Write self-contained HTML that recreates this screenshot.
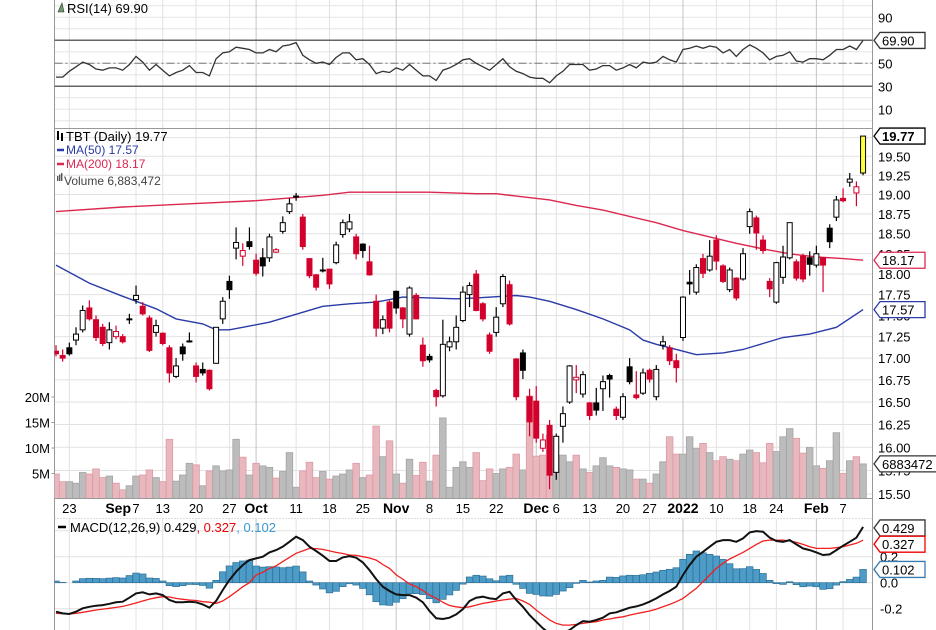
<!DOCTYPE html>
<html><head><meta charset="utf-8"><style>
html,body{margin:0;padding:0;background:#fff;}
svg{display:block;font-family:"Liberation Sans",sans-serif;}
</style></head><body>
<svg id="chart" width="936" height="630" viewBox="0 0 936 630" xmlns="http://www.w3.org/2000/svg"></svg>
<script>
const opens=[17.08,17.03,17.12,17.21,17.33,17.59,17.45,17.36,17.18,17.25,17.25,17.45,17.69,17.61,17.47,17.30,17.29,17.12,16.79,17.13,17.20,16.91,16.87,16.86,16.94,17.46,17.91,18.32,18.22,18.40,18.17,18.20,18.20,18.27,18.53,18.78,18.97,18.71,18.19,17.99,18.04,18.06,18.14,18.49,18.56,18.46,18.37,18.15,17.67,17.35,17.66,17.79,17.59,17.28,17.74,17.15,17.02,16.63,16.57,17.13,17.19,17.44,17.75,18.00,17.64,17.27,17.30,17.64,17.87,16.99,17.06,16.56,16.51,15.99,16.24,15.73,16.23,16.50,16.75,16.59,16.49,16.49,16.65,16.80,16.42,16.33,16.90,16.58,16.60,16.86,16.56,17.15,17.12,16.97,17.24,17.90,17.78,18.19,18.05,18.42,18.10,17.81,17.95,17.94,18.59,18.70,18.42,17.91,17.66,17.96,18.20,18.15,18.22,18.20,18.11,18.20,18.57,18.71,18.95,19.16,19.02,19.28];
const highs=[17.15,17.10,17.18,17.36,17.62,17.68,17.50,17.40,17.42,17.38,17.28,17.52,17.86,17.66,17.50,17.45,17.30,17.15,17.00,17.17,17.30,16.95,16.95,16.87,17.36,17.72,17.98,18.58,18.38,18.58,18.25,18.32,18.50,18.32,18.72,18.95,19.02,18.75,18.19,18.00,18.20,18.06,18.40,18.68,18.75,18.50,18.38,18.35,17.75,17.50,17.68,17.80,17.60,17.85,17.77,17.24,17.05,16.65,17.45,17.25,17.50,17.85,17.90,18.05,17.66,17.30,17.60,18.00,17.92,17.00,17.10,16.65,16.68,16.15,16.30,16.15,16.45,16.92,16.92,16.85,16.50,16.66,16.80,16.82,16.45,16.60,17.00,16.85,16.88,16.88,16.92,17.26,17.15,17.05,17.73,18.05,18.12,18.25,18.42,18.48,18.12,18.08,17.96,18.32,18.82,18.73,18.48,17.95,18.15,18.35,18.64,18.18,18.25,18.28,18.35,18.20,18.62,18.98,19.08,19.28,19.17,19.77];
const lows=[17.02,16.96,17.03,17.15,17.30,17.44,17.20,17.14,17.10,17.22,17.17,17.40,17.64,17.50,17.07,17.25,17.15,16.72,16.77,16.97,17.18,16.72,16.80,16.63,16.94,17.40,17.70,18.18,18.10,18.30,17.98,17.97,18.15,18.26,18.50,18.75,18.92,18.30,17.95,17.80,18.02,17.82,18.12,18.45,18.52,18.18,18.20,17.98,17.25,17.28,17.30,17.52,17.35,17.25,17.46,16.90,16.95,16.45,16.55,17.08,17.10,17.42,17.60,17.55,17.43,17.05,17.25,17.60,17.38,16.52,16.76,16.12,16.05,15.95,15.55,15.65,16.05,16.48,16.60,16.55,16.30,16.35,16.40,16.55,16.30,16.30,16.70,16.53,16.58,16.72,16.52,17.10,16.92,16.72,17.20,17.75,17.75,17.95,18.03,18.05,17.89,17.78,17.68,17.92,18.50,18.30,18.25,17.72,17.64,17.88,18.18,17.92,17.90,17.98,18.08,17.78,18.32,18.66,18.90,19.10,18.85,19.25];
const closes=[17.05,17.00,17.05,17.28,17.56,17.46,17.24,17.17,17.33,17.31,17.19,17.46,17.74,17.52,17.09,17.38,17.17,16.83,16.91,17.05,17.19,16.79,16.83,16.65,17.36,17.67,17.81,18.39,18.29,18.34,18.01,18.10,18.46,18.30,18.64,18.88,18.98,18.34,17.98,17.84,18.05,17.88,18.36,18.64,18.65,18.25,18.29,17.99,17.35,17.45,17.35,17.59,17.46,17.83,17.46,16.97,16.98,16.56,17.16,17.19,17.36,17.78,17.86,17.56,17.46,17.08,17.48,17.97,17.40,16.56,16.86,16.28,16.10,16.08,15.70,16.12,16.37,16.91,16.78,16.81,16.35,16.41,16.73,16.76,16.35,16.56,16.73,16.55,16.83,16.76,16.87,17.19,16.97,16.89,17.72,17.88,18.08,18.01,18.22,18.16,17.91,18.05,17.71,18.25,18.78,18.51,18.29,17.82,18.14,18.21,18.64,17.95,17.94,18.12,18.25,18.11,18.40,18.93,18.92,19.20,19.10,19.77];
const volumes=[4.9,3.4,3.4,3.1,5.2,4.9,5.9,4.2,4.5,3.1,1.8,2.6,4.5,4.7,5.7,4.2,3.4,11.7,3.5,4.7,7.0,6.7,2.6,5.5,6.5,5.5,5.7,11.7,8.2,4.7,7.0,6.5,6.2,4.1,5.4,9.1,2.3,5.5,7.2,4.2,5.4,3.9,4.5,4.9,5.7,7.0,4.2,4.7,14.3,8.3,11.4,4.9,3.1,7.8,4.6,7.2,3.5,8.6,15.9,2.3,6.2,7.3,6.2,9.1,3.6,5.9,5.0,5.9,6.2,8.8,5.7,20.2,8.4,8.6,12.5,5.9,8.6,7.3,8.6,5.9,5.2,6.5,8.1,6.5,6.2,5.9,5.7,3.9,3.9,3.1,4.9,7.3,12.2,8.8,8.8,12.2,9.9,10.9,9.1,7.5,8.3,7.8,7.5,8.8,9.6,9.1,7.1,10.9,9.3,12.2,13.8,11.9,9.0,10.1,6.5,6.0,7.5,13.0,5.0,7.5,8.3,6.88];
const rsiValues=[38,38,43,47,51,49,45,44,46,46,44,49,56,51,44,49,44,39,42,44,48,42,42,39,54,59,60,64,63,62,59,59,62,60,65,66,68,57,53,50,51,49,55,59,59,53,54,49,41,43,42,46,44,49,44,39,39,35,44,46,49,53,54,50,47,44,49,54,47,43,41,38,37,37,33,39,43,49,49,49,44,45,48,48,44,46,49,46,51,50,51,56,53,51,62,63,65,63,65,64,59,62,56,62,66,63,59,53,56,57,60,52,51,54,54,53,57,62,62,65,62,69.9];
const macdLine=[-0.223,-0.236,-0.241,-0.223,-0.197,-0.185,-0.177,-0.172,-0.162,-0.151,-0.146,-0.115,-0.082,-0.074,-0.090,-0.082,-0.095,-0.133,-0.151,-0.151,-0.146,-0.151,-0.167,-0.192,-0.141,-0.056,0.021,0.085,0.136,0.174,0.187,0.200,0.233,0.251,0.277,0.315,0.354,0.328,0.277,0.244,0.208,0.167,0.167,0.195,0.205,0.192,0.156,0.097,0.028,-0.031,-0.064,-0.090,-0.095,-0.095,-0.115,-0.151,-0.218,-0.274,-0.279,-0.269,-0.244,-0.203,-0.141,-0.115,-0.108,-0.121,-0.126,-0.082,-0.069,-0.133,-0.185,-0.249,-0.300,-0.351,-0.390,-0.403,-0.390,-0.364,-0.326,-0.295,-0.300,-0.287,-0.269,-0.236,-0.228,-0.210,-0.192,-0.182,-0.167,-0.146,-0.121,-0.090,-0.064,-0.031,0.059,0.136,0.200,0.238,0.277,0.315,0.328,0.328,0.315,0.341,0.387,0.397,0.392,0.346,0.321,0.315,0.328,0.295,0.264,0.251,0.233,0.213,0.218,0.251,0.285,0.315,0.346,0.429];
const signalLine=[-0.236,-0.238,-0.241,-0.236,-0.228,-0.219,-0.210,-0.203,-0.197,-0.190,-0.182,-0.170,-0.156,-0.141,-0.126,-0.115,-0.108,-0.110,-0.121,-0.128,-0.133,-0.137,-0.146,-0.150,-0.159,-0.140,-0.108,-0.070,-0.031,0.000,0.059,0.080,0.110,0.130,0.162,0.195,0.226,0.245,0.264,0.262,0.256,0.245,0.233,0.225,0.213,0.210,0.200,0.190,0.174,0.140,0.110,0.060,0.028,-0.010,-0.031,-0.060,-0.095,-0.120,-0.151,-0.175,-0.185,-0.192,-0.185,-0.172,-0.159,-0.151,-0.141,-0.133,-0.126,-0.121,-0.141,-0.167,-0.210,-0.249,-0.287,-0.313,-0.326,-0.326,-0.321,-0.313,-0.305,-0.300,-0.287,-0.279,-0.269,-0.262,-0.249,-0.238,-0.228,-0.218,-0.203,-0.185,-0.167,-0.146,-0.121,-0.082,-0.044,0.008,0.059,0.110,0.149,0.182,0.208,0.233,0.264,0.295,0.321,0.328,0.328,0.328,0.321,0.310,0.295,0.277,0.264,0.264,0.264,0.269,0.277,0.290,0.303,0.327];
const ma50Idx=[0,5,10,15,18,22,24,26,28,32,40,44,48,52,56,60,63,67,69,71,74,78,82,86,88,90,94,96,100,103,106,109,113,117,121];
const ma50Val=[18.11,17.89,17.73,17.58,17.46,17.40,17.33,17.33,17.36,17.42,17.61,17.64,17.66,17.72,17.71,17.70,17.71,17.73,17.74,17.72,17.67,17.57,17.46,17.33,17.21,17.16,17.08,17.04,17.06,17.10,17.17,17.24,17.28,17.36,17.57];
const ma200Idx=[0,10,20,30,40,44,56,63,66,69,74,78,82,86,90,94,98,102,106,110,114,118,121];
const ma200Val=[18.78,18.84,18.88,18.92,18.99,19.03,19.03,19.01,19.01,18.98,18.93,18.86,18.80,18.72,18.64,18.54,18.46,18.38,18.31,18.25,18.21,18.19,18.17];
const dateLabelIdx=[2,12,16,21,26,30,36,41,46,51,56,61,66,72,75,80,85,89,94,99,104,108,114,118];
const dateLabelText=["23","7","13","20","27","Oct","11","18","25","Nov","8","15","22","Dec","6","13","20","27","2022","10","18","24","Feb","7"];
const monthIdx=[30,51,72,94,114];
const priceTicks=[15.5,15.75,16,16.25,16.5,16.75,17,17.25,17.5,17.75,18,18.25,18.5,18.75,19,19.25,19.5,19.75];
const rsiTicks=[10,30,50,70,90];
const volTicks=[5,10,15,20];
const macdTicks=[-0.2,0.0,0.2];

const NS="http://www.w3.org/2000/svg";
const svg=document.getElementById('chart');
const L=54.5,R=872.5;
function X(i){return 56+i*6.67;}
function PY(p){return 214+Math.log(18.75/p)*1471;}
function RY(v){return 63.3-(v-50)*1.15;}
function VY(v){return 499-v*5.1;}
function MY(v){return 582.7-v*130;}
function el(tag,attrs,parent){const e=document.createElementNS(NS,tag);for(const k in attrs)e.setAttribute(k,attrs[k]);(parent||svg).appendChild(e);return e;}
function txt(s,x,y,attrs,parent){const t=el('text',Object.assign({x:x,y:y,'font-size':13,fill:'#000'},attrs),parent);t.textContent=s;return t;}

// clip paths
const defs=el('defs',{});
const cp1=el('clipPath',{id:'cpPrice'},defs);el('rect',{x:L,y:129,width:R-L,height:369},cp1);
const cp2=el('clipPath',{id:'cpMacd'},defs);el('rect',{x:L,y:519,width:R-L,height:111},cp2);
const cp3=el('clipPath',{id:'cpRsi'},defs);el('rect',{x:L,y:0,width:R-L,height:128},cp3);

// grids
const grid=el('g',{});


for(let v=0;v<=100;v+=10){el('line',{x1:L,x2:R,y1:RY(v),y2:RY(v),stroke:'#e6e6e6'},grid);}
priceTicks.forEach(p=>el('line',{x1:L,x2:R,y1:PY(p),y2:PY(p),stroke:'#e2e2e2'},grid));
[-0.4,-0.2,0,0.2,0.4].forEach(v=>el('line',{x1:L,x2:R,y1:MY(v),y2:MY(v),stroke:'#e2e2e2'},grid));
dateLabelIdx.forEach((i,k)=>{const isM=monthIdx.includes(i);const x=X(i)+(isM?0:0);
 [[0,128],[129,498],[519,630]].forEach(r=>el('line',{x1:x,x2:x,y1:r[0],y2:r[1],stroke:isM?'#c4c4c4':'#e2e2e2'},grid));});

// panel borders
el('line',{x1:L,x2:L,y1:0,y2:630,stroke:'#999'});
el('line',{x1:R,x2:R,y1:0,y2:630,stroke:'#999'});
el('line',{x1:L,x2:R,y1:128.5,y2:128.5,stroke:'#999'});
el('line',{x1:L,x2:R,y1:498.5,y2:498.5,stroke:'#999'});
el('line',{x1:L,x2:R,y1:518.5,y2:518.5,stroke:'#bbb','stroke-dasharray':'1 2'});

// RSI panel
el('line',{x1:L,x2:R,y1:RY(70),y2:RY(70),stroke:'#666','stroke-width':1.5});
el('line',{x1:L,x2:R,y1:RY(30),y2:RY(30),stroke:'#666','stroke-width':1.5});
el('line',{x1:L,x2:R,y1:RY(50),y2:RY(50),stroke:'#777','stroke-dasharray':'8 3 2 3'});
let rp='';rsiValues.forEach((v,i)=>{rp+=(i?'L':'M')+X(i).toFixed(1)+' '+RY(v).toFixed(1);});
const rsiPath=el('path',{d:rp,fill:'none',stroke:'#333','stroke-width':1.3,'clip-path':'url(#cpRsi)'});


rsiTicks.forEach(v=>{const t=txt(String(v),878,RY(v)+5,{'font-size':13});});
el('path',{d:'M58 12 L62 3 L64 12 Z',fill:'#6a9a6a',stroke:'#333','stroke-width':0.6});
const rl=txt('RSI(14) 69.90',67,13,{'font-size':13});



// Volume
const vg=el('g',{'clip-path':'url(#cpPrice)'});


volumes.forEach((v,i)=>{const down=i===0?true:closes[i]<closes[i-1];
 const b=el('rect',{x:X(i)-3.3,y:VY(v),width:6.6,height:499-VY(v),fill:down?'#e8b8be':'#bcbcbc',stroke:down?'#dd9aa4':'#a4a4a4','stroke-width':0.8},vg);
 
 });
volTicks.forEach(v=>{const t=txt(v+'M',50,VY(v)+5,{'font-size':13,'text-anchor':'end'});
 el('line',{x1:L-3,x2:L,y1:VY(v),y2:VY(v),stroke:'#999'});});

// MAs
function maPath(idx,val){let d='';idx.forEach((i,k)=>{d+=(k?'L':'M')+X(i).toFixed(1)+' '+PY(val[k]).toFixed(1);});return d;}
const m200=el('path',{d:maPath(ma200Idx,ma200Val),fill:'none',stroke:'#dc2850','stroke-width':1.4,'clip-path':'url(#cpPrice)'});


const m50=el('path',{d:maPath(ma50Idx,ma50Val),fill:'none',stroke:'#2a3aa8','stroke-width':1.4,'clip-path':'url(#cpPrice)'});



// candles
const cg=el('g',{'clip-path':'url(#cpPrice)'});


closes.forEach((c,i)=>{const o=opens[i];const down=i===0?true:c<closes[i-1];const filled=c<o;const last=i===closes.length-1;
 const col=down?'#d4002c':'#000';const x=X(i);
 el('line',{x1:x,x2:x,y1:PY(highs[i]),y2:PY(lows[i]),stroke:last?'#000':col,'stroke-width':1.2},cg);
 const top=PY(Math.max(o,c)),bot=PY(Math.min(o,c));
 const r=el('rect',{x:x-2.5,y:top,width:5,height:Math.max(1,bot-top),fill:last?'#ffff40':(filled?col:'#fff'),stroke:last?'#000':col,'stroke-width':1},cg);
 
 });

// price ticks
priceTicks.forEach(p=>{if(p===19.75)return;const t=txt(p.toFixed(2),878,PY(p)+5,{'font-size':13});});

// MACD
const mg=el('g',{'clip-path':'url(#cpMacd)'});


macdLine.forEach((m,i)=>{const h=m-signalLine[i];const y0=MY(0),y1=MY(h);
 const b=el('rect',{x:X(i)-3.3,y:Math.min(y0,y1),width:6.6,height:Math.abs(y1-y0),fill:'#4d9cc8',stroke:'#2d6f96','stroke-width':0.7},mg);
 
 });
let sp='',mp='';signalLine.forEach((v,i)=>{sp+=(i?'L':'M')+X(i).toFixed(1)+' '+MY(v).toFixed(1);});macdLine.forEach((v,i)=>{mp+=(i?'L':'M')+X(i).toFixed(1)+' '+MY(v).toFixed(1);});
const sl=el('path',{d:sp,fill:'none',stroke:'#f02020','stroke-width':1.3},mg);


const ml=el('path',{d:mp,fill:'none',stroke:'#111','stroke-width':2},mg);


macdTicks.forEach(v=>{const t=txt(v.toFixed(1),880,MY(v)+5,{'font-size':13});});
el('line',{x1:58,x2:66,y1:527,y2:527,stroke:'#000','stroke-width':2.5});
const ml2=el('text',{x:70,y:532,'font-size':13});


ml2.innerHTML='<tspan fill="#000">MACD(12,26,9) 0.429</tspan><tspan fill="#e00">, 0.327</tspan><tspan fill="#3b9ad0">, 0.102</tspan>';

// date labels
dateLabelIdx.forEach((i,k)=>{const s=dateLabelText[k];const isM=monthIdx.includes(i);
 let x=X(i);
 if(s==='7'&&i===12){const m=txt('Sep',x-5,513,{'font-size':14,'font-weight':'bold','text-anchor':'end'});}
 if(s==='6'&&i===75){x=X(i);}
 const t=txt(s,x,513,{'font-size':isM?14:13,'font-weight':isM?'bold':'normal','text-anchor':'middle'});
 
 });

// price legend
el('rect',{x:57,y:131,width:2,height:9,fill:'#000'});el('rect',{x:61,y:133,width:2,height:8,fill:'#000'});
const lg=el('g',{});


txt('TBT (Daily) 19.77',66,141,{'font-size':13},lg);
el('line',{x1:57,x2:64,y1:150,y2:150,stroke:'#2a3aa8','stroke-width':2.5},lg);
txt('MA(50) 17.57',66,154,{'font-size':12,fill:'#2a3aa8'},lg);
el('line',{x1:57,x2:64,y1:164,y2:164,stroke:'#dc2850','stroke-width':2.5},lg);
txt('MA(200) 18.17',66,168,{'font-size':12,fill:'#dc2850'},lg);
[0,2,4].forEach((d,k)=>el('rect',{x:57+d,y:176-k*1.5,width:1.4,height:5+k*1.5,fill:'#555'},lg));
txt('Volume 6,883,472',64,185,{'font-size':12,fill:'#444'},lg);

// value tags
function tag(y,s,color,bold,name){const g=el('g',{});
 
 
 const w=s.length*7.4+8;
 el('path',{d:`M874 ${y} L880 ${y-8} L${880+w} ${y-8} L${880+w} ${y+8} L880 ${y+8} Z`,fill:'#fff',stroke:color,'stroke-width':1.3},g);
 txt(s,882,y+5,{'font-size':13,'font-weight':bold?'bold':'normal',fill:'#000'},g);}
tag(RY(69.9),'69.90','#333',false,'rsi-value-tag');
tag(PY(19.77),'19.77','#000',true,'price-value-tag');
tag(PY(18.17),'18.17','#dc2850',false,'ma200-value-tag');
tag(PY(17.57),'17.57','#2a3aa8',false,'ma50-value-tag');
tag(VY(6.88),'6883472','#333',false,'volume-value-tag');
tag(MY(0.429)+1,'0.429','#333',false,'macd-value-tag');
tag(MY(0.327)+4,'0.327','#e00',false,'signal-value-tag');
tag(MY(0.102),'0.102','#3b7ab0',false,'histogram-value-tag');
</script>
</body></html>
